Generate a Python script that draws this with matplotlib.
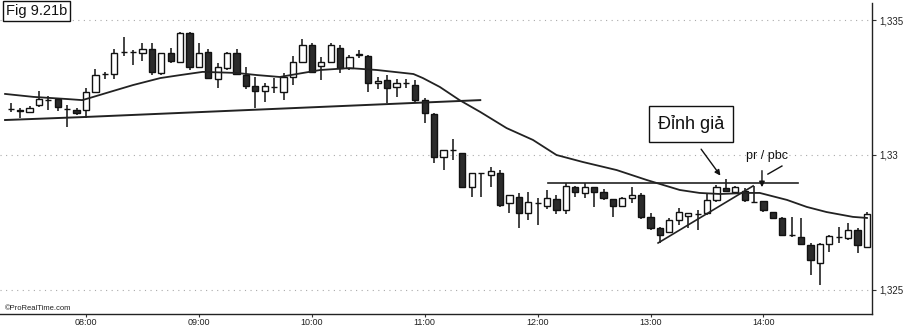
import matplotlib
matplotlib.use("Agg")
import matplotlib.pyplot as plt
import numpy as np

plt.rcParams['font.family'] = ['Liberation Sans', 'DejaVu Sans']

# ---- data (5-minute candles, 07:20 .. 14:55) ----
tick_idx = [8, 20, 32, 44, 56, 68, 80]
tick_labels = ["08:00", "09:00", "10:00", "11:00", "12:00", "13:00", "14:00"]
y_ticks = [1.325, 1.33, 1.335]
y_tick_labels = ["1,325", "1,33", "1,335"]

opens = [1.33171, 1.33167, 1.33160, 1.33186, 1.33204, 1.33208, 1.33171, 1.33167, 1.33167, 1.33234,
         1.33301, 1.33301, 1.33383, 1.33383, 1.33379, 1.33394, 1.33305, 1.33379, 1.33346, 1.33453,
         1.33327, 1.33383, 1.33282, 1.33323, 1.33379, 1.33297, 1.33256, 1.33238, 1.33253, 1.33234,
         1.33290, 1.33346, 1.33409, 1.33331, 1.33346, 1.33398, 1.33323, 1.33372, 1.33368, 1.33268,
         1.33279, 1.33253, 1.33268, 1.33260, 1.33204, 1.33152, 1.32993, 1.33019, 1.33007, 1.32881,
         1.32933, 1.32926, 1.32933, 1.32822, 1.32844, 1.32784, 1.32822, 1.32810, 1.32836, 1.32796,
         1.32881, 1.32859, 1.32881, 1.32862, 1.32836, 1.32810, 1.32840, 1.32851, 1.32770, 1.32729,
         1.32714, 1.32758, 1.32773, 1.32781, 1.32784, 1.32833, 1.32877, 1.32862, 1.32866, 1.32827,
         1.32829, 1.32788, 1.32766, 1.32703, 1.32695, 1.32665, 1.32599, 1.32669, 1.32695, 1.32692,
         1.32721, 1.32658]
highs = [1.33193, 1.33175, 1.33182, 1.33238, 1.33219, 1.33212, 1.33186, 1.33175, 1.33249, 1.33320,
         1.33309, 1.33394, 1.33439, 1.33390, 1.33416, 1.33416, 1.33379, 1.33398, 1.33457, 1.33457,
         1.33416, 1.33394, 1.33342, 1.33383, 1.33394, 1.33327, 1.33290, 1.33268, 1.33286, 1.33305,
         1.33368, 1.33431, 1.33416, 1.33364, 1.33416, 1.33409, 1.33372, 1.33390, 1.33372, 1.33290,
         1.33297, 1.33282, 1.33282, 1.33279, 1.33212, 1.33156, 1.33019, 1.33059, 1.33007, 1.32933,
         1.32933, 1.32955, 1.32944, 1.32851, 1.32859, 1.32862, 1.32840, 1.32870, 1.32851, 1.32896,
         1.32885, 1.32896, 1.32881, 1.32874, 1.32836, 1.32844, 1.32881, 1.32859, 1.32784, 1.32732,
         1.32766, 1.32803, 1.32784, 1.32796, 1.32859, 1.32889, 1.32911, 1.32885, 1.32877, 1.32885,
         1.32829, 1.32788, 1.32770, 1.32770, 1.32766, 1.32673, 1.32673, 1.32703, 1.32732, 1.32747,
         1.32729, 1.32788]
lows = [1.33160, 1.33138, 1.33160, 1.33178, 1.33167, 1.33164, 1.33104, 1.33149, 1.33138, 1.33230,
        1.33282, 1.33282, 1.33368, 1.33335, 1.33349, 1.33297, 1.33297, 1.33342, 1.33346, 1.33316,
        1.33323, 1.33282, 1.33249, 1.33316, 1.33297, 1.33245, 1.33175, 1.33197, 1.33230, 1.33204,
        1.33260, 1.33342, 1.33305, 1.33279, 1.33342, 1.33305, 1.33316, 1.33361, 1.33234, 1.33245,
        1.33193, 1.33216, 1.33249, 1.33197, 1.33119, 1.32970, 1.32944, 1.32981, 1.32877, 1.32844,
        1.32844, 1.32881, 1.32807, 1.32784, 1.32729, 1.32758, 1.32740, 1.32799, 1.32781, 1.32781,
        1.32844, 1.32840, 1.32807, 1.32833, 1.32770, 1.32807, 1.32822, 1.32762, 1.32721, 1.32673,
        1.32710, 1.32740, 1.32729, 1.32721, 1.32777, 1.32825, 1.32866, 1.32859, 1.32825, 1.32825,
        1.32788, 1.32766, 1.32699, 1.32695, 1.32665, 1.32554, 1.32517, 1.32639, 1.32673, 1.32684,
        1.32636, 1.32658]
closes = [1.33171, 1.33164, 1.33175, 1.33208, 1.33204, 1.33178, 1.33171, 1.33156, 1.33234, 1.33297,
          1.33301, 1.33379, 1.33383, 1.33383, 1.33394, 1.33309, 1.33379, 1.33349, 1.33453, 1.33327,
          1.33379, 1.33286, 1.33327, 1.33379, 1.33301, 1.33256, 1.33238, 1.33256, 1.33253, 1.33290,
          1.33346, 1.33409, 1.33309, 1.33346, 1.33409, 1.33323, 1.33364, 1.33375, 1.33268, 1.33275,
          1.33249, 1.33268, 1.33268, 1.33204, 1.33156, 1.32993, 1.33019, 1.33019, 1.32881, 1.32933,
          1.32933, 1.32941, 1.32814, 1.32851, 1.32784, 1.32825, 1.32822, 1.32840, 1.32796, 1.32885,
          1.32862, 1.32881, 1.32862, 1.32840, 1.32810, 1.32840, 1.32851, 1.32770, 1.32729, 1.32703,
          1.32758, 1.32788, 1.32784, 1.32781, 1.32833, 1.32881, 1.32866, 1.32881, 1.32833, 1.32825,
          1.32796, 1.32766, 1.32703, 1.32703, 1.32669, 1.32610, 1.32669, 1.32699, 1.32695, 1.32721,
          1.32665, 1.32781]

# moving average line (read points)
ma_idx = [-0.6, 2.4, 6.0, 7.6, 8.4, 10.5, 13.0, 15.9, 18.0, 20.4, 24.0, 26.2, 28.6, 30.4, 32.9,
          36.0, 38.9, 42.8, 43.8, 45.6, 47.7, 49.9, 52.7, 55.5, 58.0, 60.8, 64.4, 67.6, 71.1,
          73.2, 75.4, 78.2, 79.6, 82.5, 84.6, 86.7, 89.5, 91.0]
ma_val = [1.33227, 1.33216, 1.33208, 1.33204, 1.33212, 1.33234, 1.33260, 1.33286, 1.33297, 1.33309,
          1.33305, 1.33297, 1.33290, 1.33301, 1.33316, 1.33323, 1.33316, 1.33301, 1.33286, 1.33253,
          1.33204, 1.33160, 1.33100, 1.33056, 1.33000, 1.32974, 1.32944, 1.32907, 1.32870, 1.32859,
          1.32855, 1.32859, 1.32859, 1.32833, 1.32807, 1.32788, 1.32770, 1.32766]

# drawn lines
support_idx = [-0.6, 7.7, 49.9]
support_val = [1.33130, 1.33141, 1.33204]
resist_idx = [57.1, 83.7]
resist_val = [1.32896, 1.32896]
trend_idx = [68.8, 78.9]
trend_val = [1.32673, 1.32885]

# ---- figure ----
fig = plt.figure(figsize=(9.05, 3.29), dpi=100)
ax = fig.add_axes([0.0, 0.0456, 0.9635, 0.9453])

x = np.arange(len(opens))
o = np.array(opens); h = np.array(highs); l = np.array(lows); c = np.array(closes)
up = c >= o

ax.vlines(x, l, h, color='#111111', linewidth=1.1, zorder=2)
ax.bar(x[up], c[up] - o[up], bottom=o[up], width=0.66, facecolor='white',
       edgecolor='#111111', linewidth=1.0, zorder=3)
ax.bar(x[~up], c[~up] - o[~up], bottom=o[~up], width=0.66, facecolor='#2b2b2b',
       edgecolor='#111111', linewidth=1.0, zorder=3)

ax.plot(ma_idx, ma_val, color='#222222', linewidth=1.3, zorder=4)
ax.plot(support_idx, support_val, color='#222222', linewidth=1.4, zorder=4)
ax.plot(resist_idx, resist_val, color='#222222', linewidth=1.2, zorder=4)
ax.plot(trend_idx, trend_val, color='#222222', linewidth=1.2, zorder=4)

ax.set_xlim(-1.14, 91.53)
ax.set_ylim(1.32409, 1.33565)

ax.set_xticks(tick_idx)
ax.set_xticklabels(tick_labels)
ax.set_yticks(y_ticks)
ax.set_yticklabels(y_tick_labels)
ax.yaxis.tick_right()
ax.tick_params(axis='y', labelsize=7, length=3, width=0.8, color='#333333', labelcolor='#222222', pad=2)
ax.tick_params(axis='x', labelsize=6.5, length=2, width=0.8, color='#333333', labelcolor='#222222', pad=1)

for s in ['top', 'left']:
    ax.spines[s].set_visible(False)
for s in ['right', 'bottom']:
    ax.spines[s].set_linewidth(1.0)
    ax.spines[s].set_color('#222222')

ax.grid(axis='y', linestyle=(0, (1, 4)), color='#aaaaaa', linewidth=0.8)

# annotations
ax.text(72.3, 1.33115, "Đỉnh giả", fontsize=13, ha='center', va='center', color='#111111',
        bbox=dict(boxstyle='square,pad=0.5', facecolor='white', edgecolor='#111111', linewidth=1.0),
        zorder=6)
ax.annotate("", xy=(75.6, 1.32915), xytext=(73.2, 1.33030),
            arrowprops=dict(arrowstyle='-|>', color='#111111', lw=1.0, mutation_scale=8), zorder=6)
ax.text(80.4, 1.32996, "pr / pbc", fontsize=9, ha='center', va='center', color='#111111', zorder=6)
ax.annotate("", xy=(79.84, 1.32870), xytext=(79.84, 1.32952),
            arrowprops=dict(arrowstyle='-|>', color='#111111', lw=1.0, mutation_scale=8), zorder=6)
ax.plot([81.96, 80.47], [1.32959, 1.32929], color='#111111', linewidth=1.0, zorder=6)

fig.text(0.0066, 0.987, "Fig 9.21b", fontsize=10.5, ha='left', va='top', color='#111111',
         bbox=dict(boxstyle='square,pad=0.2', facecolor='white', edgecolor='#111111', linewidth=1.0))
ax.text(0.006, 0.006, "©ProRealTime.com", transform=ax.transAxes, fontsize=5.5,
        ha='left', va='bottom', color='#222222')

fig.savefig("out.png", dpi=100)
